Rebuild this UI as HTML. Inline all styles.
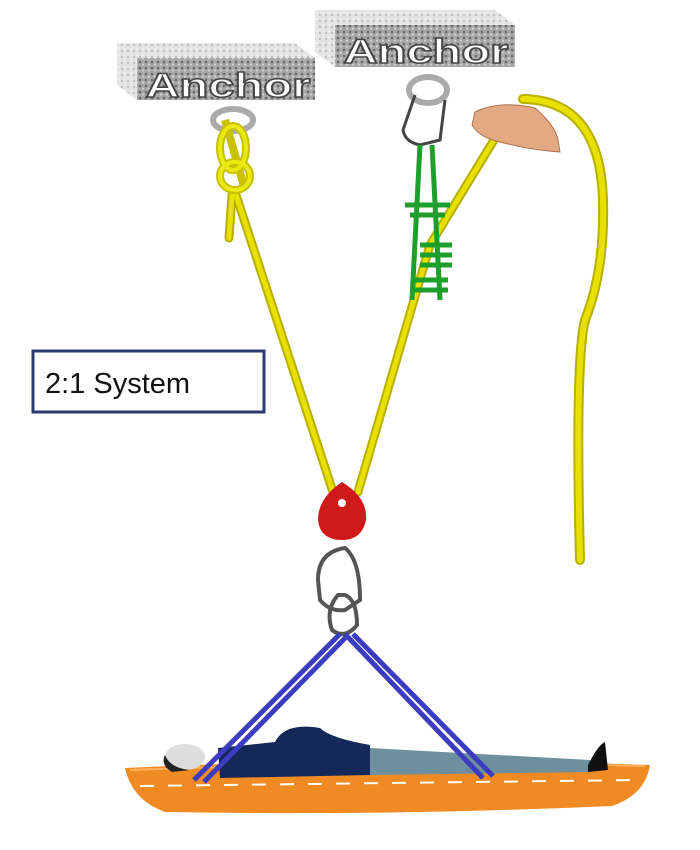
<!DOCTYPE html>
<html><head><style>
html,body{margin:0;padding:0;background:#fff;width:700px;height:850px;overflow:hidden}
</style></head><body>
<svg width="700" height="850" viewBox="0 0 700 850" xmlns="http://www.w3.org/2000/svg">
<defs>
<pattern id="stone" width="6" height="6" patternUnits="userSpaceOnUse">
<rect width="6" height="6" fill="#a8a8a8"/><circle cx="2" cy="2" r="1.3" fill="#6a6a6a"/><circle cx="5" cy="4.5" r="1" fill="#d8d8d8"/>
</pattern>
<pattern id="stoneL" width="6" height="6" patternUnits="userSpaceOnUse">
<rect width="6" height="6" fill="#e4e4e4"/><circle cx="2" cy="3" r="1.2" fill="#c0c0c0"/><circle cx="5" cy="1" r="0.8" fill="#fafafa"/>
</pattern>
</defs>
<!-- anchor 1 -->
<polygon points="117,43 295,43 315,58 315,100 137,100 117,85" fill="url(#stoneL)"/>
<rect x="137" y="58" width="178" height="42" fill="url(#stone)"/>
<text x="228" y="97" text-anchor="middle" font-family="Liberation Sans, sans-serif" font-weight="bold" font-size="34" fill="#fff" stroke="#444" stroke-width="1.5" textLength="165" lengthAdjust="spacingAndGlyphs">Anchor</text>
<!-- anchor 2 -->
<polygon points="315,10 495,10 515,25 515,67 335,67 315,52" fill="url(#stoneL)"/>
<rect x="335" y="25" width="180" height="42" fill="url(#stone)"/>
<text x="426" y="63" text-anchor="middle" font-family="Liberation Sans, sans-serif" font-weight="bold" font-size="34" fill="#fff" stroke="#444" stroke-width="1.5" textLength="165" lengthAdjust="spacingAndGlyphs">Anchor</text>
<!-- rings -->
<ellipse cx="233" cy="120" rx="20" ry="11" fill="none" stroke="#aaa" stroke-width="6"/>
<ellipse cx="428" cy="90" rx="19" ry="13" fill="none" stroke="#aaa" stroke-width="6"/>
<!-- carabiner top right -->
<path d="M415,95 L403,130 Q405,142 420,145 L440,140 L445,100" fill="none" stroke="#444" stroke-width="3"/>
<!-- ropes -->
<g fill="none" stroke="#b8b000" stroke-linecap="round">
<path d="M236,195 L333,492" stroke-width="9"/>
<path d="M232,195 L229,238" stroke-width="9"/>
<path d="M358,492 L430,245 L497,135" stroke-width="9"/>
<path d="M523,99 Q600,100 603,200 Q605,270 585,320 Q575,360 580,560" stroke-width="10"/>
</g>
<g fill="none" stroke="#e8e000" stroke-linecap="round">
<path d="M236,195 L333,492" stroke-width="5"/>
<path d="M232,195 L229,238" stroke-width="5"/>
<path d="M358,492 L430,245 L497,135" stroke-width="5"/>
<path d="M523,99 Q600,100 603,200 Q605,270 585,320 Q575,360 580,560" stroke-width="6"/>
</g>
<!-- knot -->
<g fill="none" stroke="#c8c000" stroke-width="8">
<ellipse cx="233" cy="148" rx="13" ry="22"/><ellipse cx="235" cy="176" rx="15" ry="14"/><path d="M225,120 L245,190"/>
</g>
<g fill="none" stroke="#eaea10" stroke-width="4">
<ellipse cx="233" cy="148" rx="13" ry="22"/><ellipse cx="235" cy="176" rx="15" ry="14"/>
</g>
<!-- green sling -->
<g fill="none" stroke="#1e9e2a" stroke-width="5">
<path d="M420,145 L412,300 M432,145 L440,300 M405,205 L450,205 M410,215 L445,215 M420,245 L452,245 M420,255 L452,255 M420,265 L452,265 M415,280 L448,280 M415,290 L448,290"/>
</g>
<!-- hand -->
<path d="M475,112 Q500,100 535,108 Q555,125 558,140 L560,152 Q530,150 500,142 Q480,138 472,125 Z" fill="#e3a982" stroke="#b07050" stroke-width="1"/>
<!-- label -->
<rect x="33" y="351" width="231" height="61" fill="#fff" stroke="#2b3a70" stroke-width="3"/>
<text x="45" y="393" font-family="Liberation Sans, sans-serif" font-size="29" fill="#111">2:1 System</text>
<!-- pulley -->
<path d="M342,482 Q368,498 366,520 Q362,540 342,540 Q320,540 318,520 Q318,498 342,482 Z" fill="#d01a1a"/>
<circle cx="342" cy="503" r="4" fill="#fff"/>
<!-- carabiners -->
<path d="M345,548 Q318,552 318,580 L320,600 Q330,612 345,610 L360,600 Q360,560 345,548 Z" fill="none" stroke="#555" stroke-width="4"/>
<path d="M338,595 Q325,610 332,630 Q345,640 357,625 Q357,600 345,595 Z" fill="none" stroke="#555" stroke-width="4"/>
<!-- litter -->
<path d="M125,768 Q390,755 650,765 Q645,795 612,806 Q390,816 165,812 Q132,800 125,768 Z" fill="#f08a22"/>
<path d="M140,786 L640,780" stroke="#fff" stroke-width="2" stroke-dasharray="14,14"/>
<path d="M130,770 Q390,760 645,766" stroke="#ffb060" stroke-width="2" fill="none"/>
<!-- person -->
<ellipse cx="185" cy="757" rx="20" ry="13" fill="#ddd"/>
<path d="M165,755 Q170,768 190,770 L172,772 Q160,765 165,755Z" fill="#222"/>
<path d="M218,748 L275,742 Q285,722 320,728 Q330,738 370,745 L370,775 L220,778 Z" fill="#15285a"/>
<path d="M370,748 L590,760 L590,772 L370,775 Z" fill="#6d8f9e"/>
<path d="M588,765 Q598,745 605,742 L608,770 L588,772 Z" fill="#111"/>
<!-- straps -->
<g stroke="#3c3cc0" stroke-width="5" fill="none">
<path d="M340,634 L194,780 M347,636 L204,782"/>
<path d="M345,634 L483,778 M353,634 L493,776"/>
</g>
</svg>
</body></html>
